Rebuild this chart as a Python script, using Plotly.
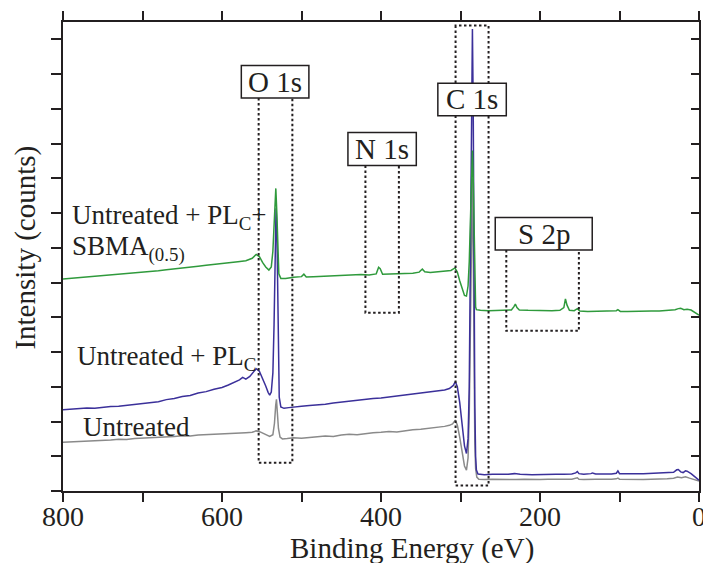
import plotly.graph_objects as go

# XPS survey spectra (binding energy in eV, intensity in arbitrary offset units)
untreated_be = [800, 790, 780, 770, 760, 750, 740, 730, 720, 710, 700, 690, 680, 670, 660, 650, 640, 630,
                620, 610, 600, 590, 580, 570, 562, 557, 552, 546, 540, 536, 534, 532.5, 531.5, 530.5, 529,
                527, 524, 518, 510, 500, 490, 480, 470, 460, 450, 440, 430, 420, 410, 400, 390, 380, 370,
                360, 350, 340, 330, 320, 314, 310, 306.5, 304, 301, 298, 295, 292.5, 290.5, 289, 287.5,
                286, 285, 284, 283, 282, 281, 279.5, 277, 270, 260, 250, 240, 230, 220, 210, 200, 190, 180,
                170, 160, 155, 153, 151, 145, 130, 120, 110, 104, 102, 100, 90, 80, 70, 60, 50, 40, 32, 27,
                22, 17, 12, 6, 2, 0]
untreated_int = [1.40, 1.41, 1.43, 1.42, 1.45, 1.46, 1.47, 1.49, 1.48, 1.51, 1.52, 1.54, 1.53, 1.56, 1.57,
                 1.59, 1.58, 1.61, 1.62, 1.63, 1.64, 1.66, 1.65, 1.68, 1.69, 1.73, 1.70, 1.64, 1.57, 1.62,
                 1.95, 2.45, 2.64, 2.30, 1.80, 1.55, 1.50, 1.51, 1.53, 1.52, 1.55, 1.56, 1.58, 1.57, 1.61,
                 1.63, 1.62, 1.66, 1.68, 1.69, 1.71, 1.70, 1.74, 1.76, 1.78, 1.80, 1.84, 1.86, 1.89, 1.93,
                 2.04, 1.90, 1.55, 1.10, 0.72, 0.60, 0.95, 2.2, 5.0, 8.2, 9.0, 7.0, 3.5, 1.4, 0.65, 0.40,
                 0.34, 0.33, 0.34, 0.33, 0.34, 0.33, 0.34, 0.33, 0.33, 0.34, 0.33, 0.34, 0.34, 0.36, 0.38,
                 0.34, 0.33, 0.34, 0.33, 0.34, 0.35, 0.37, 0.34, 0.33, 0.34, 0.33, 0.34, 0.34, 0.35, 0.37,
                 0.40, 0.38, 0.41, 0.37, 0.33, 0.30, 0.29]

plc_be = [800, 790, 780, 770, 760, 750, 740, 730, 720, 710, 700, 690, 680, 670, 660, 650, 640, 630, 620,
          610, 600, 592, 585, 578, 574, 570, 565, 560, 557, 553, 549, 545, 542, 540, 538, 536, 534.5, 533,
          532, 531, 530, 529, 528, 526, 522, 516, 510, 500, 490, 480, 470, 460, 450, 440, 430, 420, 410,
          400, 390, 380, 370, 360, 350, 340, 330, 320, 314, 309, 306.5, 304, 301, 298, 295, 292.5, 290.5,
          289, 288, 287, 286, 285, 284, 283, 282, 281, 280, 278, 270, 260, 250, 240, 232, 225, 210, 200,
          190, 180, 170, 160, 155, 153, 151, 145, 136, 134, 130, 120, 110, 104, 102, 100, 90, 80, 70, 60,
          50, 40, 32, 28, 26, 23, 20, 17, 15, 10, 5, 2, 0]
plc_int = [2.34, 2.36, 2.37, 2.39, 2.38, 2.41, 2.43, 2.44, 2.47, 2.49, 2.51, 2.55, 2.57, 2.63, 2.66, 2.72,
           2.75, 2.82, 2.86, 2.93, 2.98, 3.05, 3.12, 3.20, 3.27, 3.22, 3.30, 3.42, 3.52, 3.45, 3.25, 3.02,
           2.84, 2.76, 2.85, 3.4, 4.8, 6.8, 8.14, 7.6, 5.5, 3.6, 2.7, 2.42, 2.38, 2.40, 2.42, 2.44, 2.46,
           2.47, 2.50, 2.53, 2.56, 2.59, 2.60, 2.64, 2.66, 2.68, 2.71, 2.73, 2.77, 2.80, 2.83, 2.86, 2.88,
           2.91, 2.95, 3.04, 3.15, 3.00, 2.55, 1.85, 1.30, 1.08, 1.5, 3.0, 5.5, 8.5, 11.5, 13.3, 11.0, 6.0,
           2.5, 1.0, 0.60, 0.49, 0.47, 0.48, 0.47, 0.48, 0.50, 0.48, 0.47, 0.48, 0.47, 0.48, 0.48, 0.49,
           0.52, 0.56, 0.50, 0.48, 0.50, 0.52, 0.49, 0.48, 0.49, 0.51, 0.58, 0.50, 0.49, 0.50, 0.50, 0.51,
           0.51, 0.52, 0.54, 0.61, 0.62, 0.55, 0.53, 0.58, 0.57, 0.50, 0.42, 0.35, 0.31]

sbma_be = [800, 790, 780, 770, 760, 750, 740, 730, 720, 710, 700, 690, 680, 670, 660, 650, 640, 630, 620,
           610, 600, 590, 580, 570, 562, 557, 553, 549, 545, 541, 538, 536, 534.5, 533, 532.3, 531, 530,
           528.5, 526, 520, 510, 500, 497, 494, 485, 475, 465, 455, 445, 435, 425, 415, 406, 403, 401, 398,
           390, 380, 370, 360, 352, 348, 345, 338, 330, 320, 312, 307, 304, 301, 298, 295, 292.5, 290.5,
           289, 288, 287, 286, 285, 284, 283, 282, 281, 280, 275, 265, 255, 245, 236, 233, 231, 229, 226,
           215, 205, 195, 185, 175, 170, 168, 166, 163, 157, 153, 150, 140, 130, 120, 110, 104, 102, 99,
           90, 80, 70, 60, 50, 40, 30, 26, 23, 19, 15, 10, 5, 2, 0]
sbma_int = [6.10, 6.12, 6.13, 6.15, 6.17, 6.19, 6.20, 6.23, 6.24, 6.27, 6.29, 6.31, 6.34, 6.37, 6.39,
            6.42, 6.45, 6.47, 6.50, 6.52, 6.55, 6.57, 6.60, 6.63, 6.70, 6.81, 6.75, 6.58, 6.45, 6.36, 6.45,
            6.9, 7.8, 8.5, 8.71, 8.0, 6.9, 6.25, 6.12, 6.12, 6.15, 6.17, 6.24, 6.16, 6.17, 6.18, 6.19,
            6.21, 6.22, 6.21, 6.23, 6.22, 6.25, 6.44, 6.40, 6.24, 6.24, 6.25, 6.26, 6.27, 6.30, 6.39, 6.31,
            6.29, 6.31, 6.33, 6.35, 6.42, 6.30, 6.05, 5.80, 5.63, 5.61, 5.9, 6.6, 7.5, 8.5, 9.4, 9.8, 9.0,
            7.2, 5.8, 5.3, 5.22, 5.20, 5.19, 5.20, 5.19, 5.21, 5.30, 5.38, 5.28, 5.21, 5.20, 5.19, 5.20,
            5.19, 5.20, 5.28, 5.53, 5.35, 5.20, 5.19, 5.25, 5.18, 5.17, 5.18, 5.17, 5.18, 5.19, 5.22, 5.17,
            5.17, 5.18, 5.17, 5.18, 5.18, 5.19, 5.22, 5.25, 5.26, 5.22, 5.23, 5.21, 5.13, 5.09, 5.06]

energy_ticks = [800, 700, 600, 500, 400, 300, 200, 100, 0]
energy_tick_text = ["800", "", "600", "", "400", "", "200", "", "0"]
intensity_ticks = list(range(0, 14))

# Core-level regions: (label, label box x0, x1, y0, y1, window x0, x1, y_bottom, closed top)
regions = [
    ("O 1s", 575.7, 490.7, 11.31, 12.25, 553.9, 511.5, 0.81, None),
    ("N 1s", 441.6, 355.6, 9.37, 10.32, 419.6, 377.5, 5.13, None),
    ("C 1s", 328.5, 242.4, 10.80, 11.74, 306.2, 264.7, 0.16, 13.40),
    ("S 2p", 256.3, 134.3, 6.94, 7.87, 242.4, 151.1, 4.61, None),
]

SERIF = "Liberation Serif, Times New Roman, serif"
INK = "#231f20"

fig = go.Figure()
fig.add_trace(go.Scatter(x=untreated_be, y=untreated_int, mode="lines",
                         line=dict(color="#8a8a8a", width=1.5), showlegend=False))
fig.add_trace(go.Scatter(x=plc_be, y=plc_int, mode="lines",
                         line=dict(color="#3b309a", width=1.5), showlegend=False))
fig.add_trace(go.Scatter(x=sbma_be, y=sbma_int, mode="lines",
                         line=dict(color="#2f9a3c", width=1.5), showlegend=False))
# carrier for the right-hand axis with inward ticks
fig.add_trace(go.Scatter(x=[None], y=[None], yaxis="y2", showlegend=False, hoverinfo="skip"))

dotted = dict(color=INK, width=2, dash="2.5px,2.5px")
for label, bx0, bx1, by0, by1, wx0, wx1, wyb, wtop in regions:
    top = wtop if wtop is not None else by0
    path = f"M {wx0},{top} L {wx0},{wyb} L {wx1},{wyb} L {wx1},{top}"
    if wtop is not None:
        path += " Z"
    fig.add_shape(type="path", path=path, line=dotted, layer="above")
for label, bx0, bx1, by0, by1, wx0, wx1, wyb, wtop in regions:
    fig.add_shape(type="rect", x0=bx0, x1=bx1, y0=by0, y1=by1, fillcolor="white",
                  line=dict(color=INK, width=1.5), layer="above")
    fig.add_annotation(x=(bx0 + bx1) / 2, y=(by0 + by1) / 2, text=label, showarrow=False,
                       font=dict(family=SERIF, size=29, color=INK), xanchor="center", yanchor="middle")

series_labels = [
    ("Untreated + PL<sub>C</sub>+", 791.6, 7.88),
    ("SBMA<sub>(0.5)</sub>", 791.6, 6.97),
    ("Untreated + PL<sub>C</sub>", 785.3, 3.83),
    ("Untreated", 777.8, 1.83),
]
for text, x, y in series_labels:
    fig.add_annotation(x=x, y=y, text=text, showarrow=False, xanchor="left", yanchor="middle",
                       font=dict(family=SERIF, size=27, color=INK))

fig.add_annotation(xref="paper", yref="paper", x=0.549, y=-0.122, text="Binding Energy (eV)",
                   showarrow=False, xanchor="center", yanchor="middle",
                   font=dict(family=SERIF, size=29, color=INK))
fig.add_annotation(xref="paper", yref="paper", x=-0.059, y=0.520, text="Intensity (counts)",
                   textangle=-90, showarrow=False, xanchor="center", yanchor="middle",
                   font=dict(family=SERIF, size=29, color=INK))

fig.update_layout(
    width=703, height=563,
    margin=dict(l=63, r=4, t=22, b=72, autoexpand=False),
    paper_bgcolor="white", plot_bgcolor="white",
    font=dict(family=SERIF, color=INK),
    xaxis=dict(range=[800, 0], tickvals=energy_ticks, ticktext=energy_tick_text,
               ticks="outside", ticklen=9, tickwidth=1.5, tickcolor=INK,
               showline=True, linecolor=INK, linewidth=1.5, mirror="ticks", automargin=False,
               showgrid=False, zeroline=False, ticklabeloverflow="allow", ticklabelstandoff=-9,
               tickfont=dict(family=SERIF, size=28, color=INK)),
    yaxis=dict(range=[0, 13.5], tickvals=intensity_ticks, showticklabels=False,
               ticks="outside", ticklen=10, tickwidth=1.5, tickcolor=INK, automargin=False,
               showline=True, linecolor=INK, linewidth=1.5, mirror=False,
               showgrid=False, zeroline=False),
    yaxis2=dict(range=[0, 13.5], tickvals=intensity_ticks, showticklabels=False,
                overlaying="y", side="right", anchor="x", automargin=False,
                ticks="inside", ticklen=8, tickwidth=1.5, tickcolor=INK,
                showline=True, linecolor=INK, linewidth=1.5,
                showgrid=False, zeroline=False),
)

fig.write_html("out.html")
